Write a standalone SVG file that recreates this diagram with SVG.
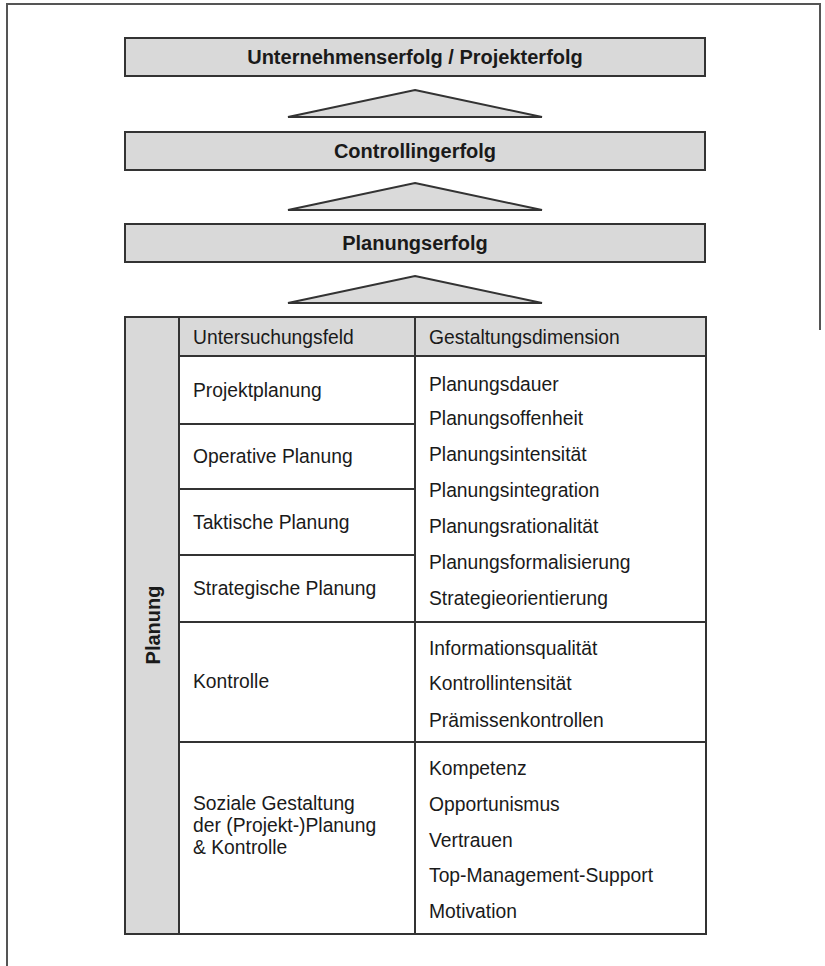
<svg xmlns="http://www.w3.org/2000/svg" width="825" height="966" viewBox="0 0 825 966">
<defs>
<style>
.frame{fill:none;stroke:#555;stroke-width:2}
.box{fill:#d9d9d9;stroke:#333;stroke-width:2}
.tri{fill:#dadada;stroke:#333;stroke-width:2;stroke-linejoin:miter}
.ln{stroke:#333;stroke-width:2;fill:none}
.hd{font-family:"Liberation Sans",Arial,sans-serif;font-weight:bold;font-size:20px;fill:#1a1a1a;text-anchor:middle}
.tx{font-family:"Liberation Sans",Arial,sans-serif;font-size:19.3px;fill:#1a1a1a}
</style>
</defs>
<rect width="825" height="966" fill="#fff"/>
<path class="frame" d="M7,966 V4 H820 V330"/>

<g id="box-unternehmenserfolg">
<rect class="box" x="125" y="38" width="580" height="38"/>
<text class="hd" x="415" y="64">Unternehmenserfolg / Projekterfolg</text>
</g>
<g id="box-controllingerfolg">
<rect class="box" x="125" y="132" width="580" height="38"/>
<text class="hd" x="415" y="158">Controllingerfolg</text>
</g>
<g id="box-planungserfolg">
<rect class="box" x="125" y="224" width="580" height="38"/>
<text class="hd" x="415" y="250">Planungserfolg</text>
</g>

<g id="connectors">
<polygon class="tri" points="415,90 542,117 288,117"/>
<polygon class="tri" points="415,183 542,210 288,210"/>
<polygon class="tri" points="415,276 542,303 288,303"/>
</g>

<g id="table">
<rect x="125" y="317" width="54" height="617" fill="#d9d9d9"/>
<rect x="179" y="317" width="527" height="39" fill="#d9d9d9"/>
<rect class="ln" x="125" y="317" width="581" height="617"/>
<line class="ln" x1="179" y1="317" x2="179" y2="934"/>
<line class="ln" x1="415" y1="317" x2="415" y2="934"/>
<line class="ln" x1="179" y1="356" x2="706" y2="356"/>
<line class="ln" x1="179" y1="424" x2="415" y2="424"/>
<line class="ln" x1="179" y1="489" x2="415" y2="489"/>
<line class="ln" x1="179" y1="555" x2="415" y2="555"/>
<line class="ln" x1="179" y1="622" x2="706" y2="622"/>
<line class="ln" x1="179" y1="742" x2="706" y2="742"/>
</g>

<g id="label-planung">
<text class="hd" transform="translate(160,625) rotate(-90)" x="0" y="0" font-size="19">Planung</text>
</g>

<g id="header">
<text class="tx" x="193" y="344">Untersuchungsfeld</text>
<text class="tx" x="429" y="344">Gestaltungsdimension</text>
</g>

<g id="col-untersuchungsfeld">
<text class="tx" x="193" y="397">Projektplanung</text>
<text class="tx" x="193" y="463">Operative Planung</text>
<text class="tx" x="193" y="529">Taktische Planung</text>
<text class="tx" x="193" y="595">Strategische Planung</text>
<text class="tx" x="193" y="688">Kontrolle</text>
<text class="tx" x="193" y="810">Soziale Gestaltung</text>
<text class="tx" x="193" y="832">der (Projekt-)Planung</text>
<text class="tx" x="193" y="854">&amp; Kontrolle</text>
</g>

<g id="col-gestaltungsdimension">
<text class="tx" x="429" y="391">Planungsdauer</text>
<text class="tx" x="429" y="425">Planungsoffenheit</text>
<text class="tx" x="429" y="461">Planungsintensität</text>
<text class="tx" x="429" y="497">Planungsintegration</text>
<text class="tx" x="429" y="533">Planungsrationalität</text>
<text class="tx" x="429" y="569">Planungsformalisierung</text>
<text class="tx" x="429" y="605">Strategieorientierung</text>
<text class="tx" x="429" y="655">Informationsqualität</text>
<text class="tx" x="429" y="690">Kontrollintensität</text>
<text class="tx" x="429" y="727">Prämissenkontrollen</text>
<text class="tx" x="429" y="775">Kompetenz</text>
<text class="tx" x="429" y="811">Opportunismus</text>
<text class="tx" x="429" y="847">Vertrauen</text>
<text class="tx" x="429" y="882">Top-Management-Support</text>
<text class="tx" x="429" y="918">Motivation</text>
</g>
</svg>
